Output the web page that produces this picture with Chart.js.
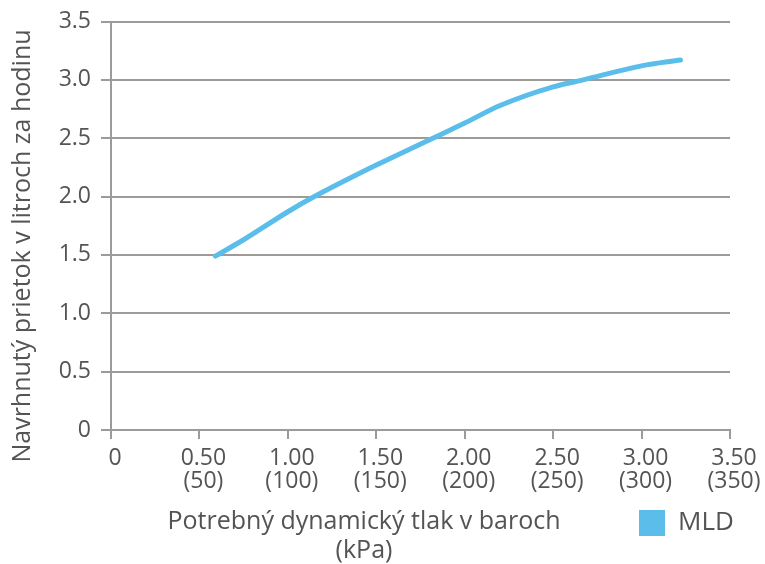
<!DOCTYPE html>
<html>
<head>
<meta charset="utf-8">
<script src="https://cdn.jsdelivr.net/npm/chart.js@4.4.0/dist/chart.umd.min.js"></script>
<style>
  html, body { margin: 0; padding: 0; background: #fff; }
  #wrap { position: relative; width: 765px; height: 564px; }
</style>
</head>
<body>
<div id="wrap"><canvas id="flowChart" width="765" height="564"></canvas></div>
<script>
// pressure in bar (x) vs flow rate in litres per hour (y)
const pressureBar = [0.59, 0.75, 1.0, 1.15, 1.5, 1.82, 2.0, 2.2, 2.5, 2.67, 3.0, 3.22];
const flowMLD = [1.49, 1.63, 1.87, 2.0, 2.27, 2.5, 2.63, 2.78, 2.94, 3.0, 3.12, 3.17];
const seriesLabel = "MLD";
const xTitle = ["Potrebný dynamický tlak v baroch", "(kPa)"];
const yTitle = "Navrhnutý prietok v litroch za hodinu";

const gridColor = "#9e9a97";
const textColor = "#545454";
const lineColor = "#5bbeea";
const fontFamily = "'Open Sans', sans-serif";

// axis titles + legend, drawn at fixed spots like the original
const extraText = {
  id: "extraText",
  afterDraw(chart) {
    const ctx = chart.ctx;
    ctx.save();
    ctx.fillStyle = textColor;
    ctx.font = "25px " + fontFamily;
    ctx.textAlign = "center";
    ctx.textBaseline = "middle";
    ctx.fillText(xTitle[0], 364, 522);
    ctx.fillText(xTitle[1], 364, 551);

    ctx.translate(23, 246);
    ctx.rotate(-Math.PI / 2);
    ctx.fillText(yTitle, 0, 0);
    ctx.restore();

    ctx.save();
    ctx.fillStyle = lineColor;
    ctx.fillRect(639, 510, 26, 26);
    ctx.fillStyle = textColor;
    ctx.font = "26px " + fontFamily;
    ctx.textAlign = "left";
    ctx.textBaseline = "middle";
    ctx.fillText(chart.data.datasets[0].label, 678, 523);
    ctx.restore();
  },
};

const data = {
  datasets: [
    {
      label: seriesLabel,
      data: pressureBar.map((x, i) => ({ x: x, y: flowMLD[i] })),
      borderColor: lineColor,
      backgroundColor: lineColor,
      borderWidth: 5,
      borderCapStyle: "round",
      borderJoinStyle: "round",
      pointRadius: 0,
      tension: 0.4,
      cubicInterpolationMode: "monotone",
    },
  ],
};

new Chart(document.getElementById("flowChart").getContext("2d"), {
  type: "line",
  data: data,
  plugins: [extraText],
  options: {
    responsive: false,
    animation: false,
    layout: { padding: { top: 12, right: 35, left: 0, bottom: 0 } },
    plugins: { legend: { display: false }, tooltip: { enabled: false } },
    scales: {
      x: {
        type: "linear",
        min: 0,
        max: 3.5,
        afterFit: (scale) => { scale.height = 134; },
        grid: { drawOnChartArea: false, color: gridColor, lineWidth: 2, tickLength: 9 },
        border: { color: gridColor, width: 2 },
        ticks: {
          stepSize: 0.5,
          color: textColor,
          padding: 8,
          labelOffset: 4,
          maxRotation: 0,
          font: { family: fontFamily, size: 23, lineHeight: 1.0 },
          callback: (v) => (v === 0 ? "0" : [v.toFixed(2), "(" + Math.round(v * 100) + ")"]),
        },
      },
      y: {
        min: 0,
        max: 3.5,
        afterFit: (scale) => { scale.width = 111; },
        grid: { color: gridColor, lineWidth: 2, tickLength: 10 },
        border: { color: gridColor, width: 2 },
        ticks: {
          stepSize: 0.5,
          color: textColor,
          padding: 10,
          font: { family: fontFamily, size: 23, lineHeight: 1.0 },
          callback: (v) => (v === 0 ? "0" : v.toFixed(1)),
        },
      },
    },
  },
});
</script>
</body>
</html>
